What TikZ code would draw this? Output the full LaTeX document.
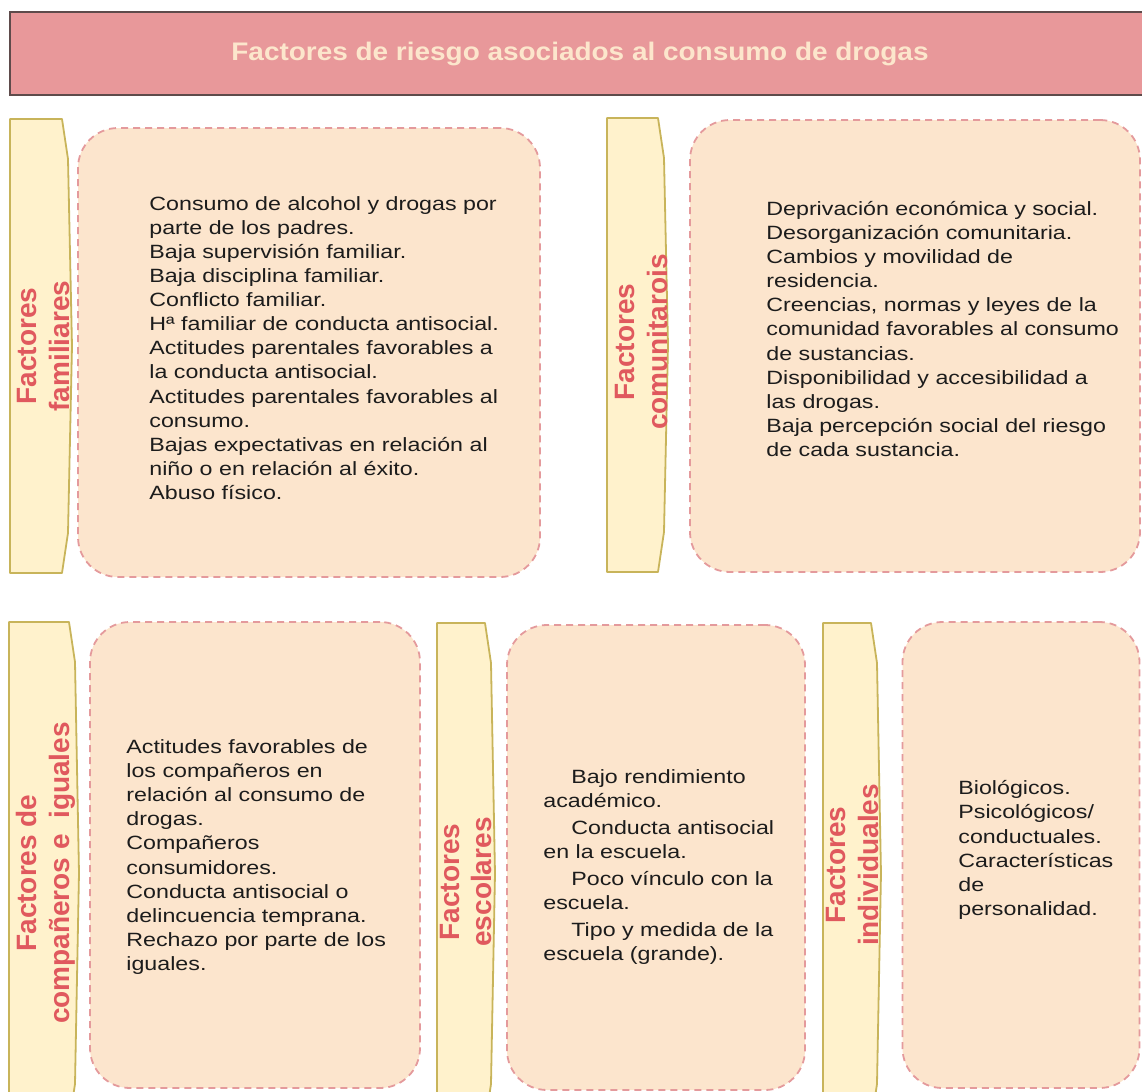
\documentclass[tikz,border=0pt]{standalone}
\usepackage{fontspec}
\setmainfont{Liberation Sans}[FakeStretch=1.21]
\newfontfamily\tabfont{Liberation Sans}
\newfontfamily\titlefont{Liberation Sans}[FakeStretch=1.1]
\usetikzlibrary{positioning}
\definecolor{titlefill}{HTML}{E8989A}
\definecolor{titledraw}{HTML}{5E4B4B}
\definecolor{titletext}{HTML}{FCE6CC}
\definecolor{tabfill}{HTML}{FFF2CC}
\definecolor{tabdraw}{HTML}{C8B45A}
\definecolor{tabtext}{HTML}{E0595E}
\definecolor{boxfill}{HTML}{FCE5CD}
\definecolor{boxdraw}{HTML}{E49A9C}
\definecolor{bodytext}{HTML}{1C1C1C}
\tikzset{%
	titlebar/.style = {draw=titledraw, fill=titlefill, line width=1pt, rectangle, minimum width=570pt, minimum height=41.5pt, text=titletext, font=\titlefont\fontsize{12.7}{15}\selectfont\bfseries},
	tab/.style      = {draw=tabdraw, fill=tabfill, line width=0.9pt, line join=round},
	tablabel/.style = {rotate=90, align=center, text=tabtext, inner sep=0pt, font=\tabfont\fontsize{14}{16.5}\selectfont\bfseries},
	riskbox/.style  = {draw=boxdraw, fill=boxfill, dash pattern=on 3.5pt off 2.5pt, line width=0.9pt, rectangle, rounded corners=20pt, inner sep=0pt},
	itemtext/.style = {anchor=west, align=left, text=bodytext, inner sep=0pt, font=\fontsize{9.6}{12.05}\selectfont},
}
% tab: left, right, top, bottom
\newcommand{\factortab}[4]{%
	\pgfmathsetmacro{\tabmid}{(#3+#4)/2}
	\draw[tab] (#1,#3) -- (#2,#3) -- (#2+6,#3+40) -- (#2+10,\tabmid) -- (#2+6,#4-40) -- (#2,#4) -- (#1,#4) -- cycle;}

\begin{document}
\begin{tikzpicture}[x=0.5pt,y=-0.5pt]
	\useasboundingbox (0,0) rectangle (1142,1092);
	\clip (0,0) rectangle (1142,1092);
	
	\node[titlebar] (title) at (580,53.5) {Factores de riesgo asociados al consumo de drogas};
	
	% upper row
	\factortab{10}{62}{119}{573}
	\node[tablabel] (famTab) at (44,346) {Factores\\familiares};
	\node[riskbox, minimum width=231pt, minimum height=224.5pt] (famBox) at (309,352.5) {};
	\node[itemtext] (famText) at (149,348) {Consumo de alcohol y drogas por\\
		parte de los padres.\\
		Baja supervisión familiar.\\
		Baja disciplina familiar.\\
		Conflicto familiar.\\
		Hª familiar de conducta antisocial.\\
		Actitudes parentales favorables a\\
		la conducta antisocial.\\
		Actitudes parentales favorables al\\
		consumo.\\
		Bajas expectativas en relación al\\
		niño o en relación al éxito.\\
		Abuso físico.};
	
	\factortab{607}{658}{118}{572}
	\node[tablabel] (comTab) at (641,342) {Factores\\comunitarois};
	\node[riskbox, minimum width=225pt, minimum height=226pt] (comBox) at (915,346) {};
	\node[itemtext] (comText) at (766,329) {Deprivación económica y social.\\
		Desorganización comunitaria.\\
		Cambios y movilidad de\\
		residencia.\\
		Creencias, normas y leyes de la\\
		comunidad favorables al consumo\\
		de sustancias.\\
		Disponibilidad y accesibilidad a\\
		las drogas.\\
		Baja percepción social del riesgo\\
		de cada sustancia.};
	
	% lower row
	\factortab{9}{69}{622}{1124}
	\node[tablabel] (pairTab) at (46,873) {Factores de\\compañeros e\ \ iguales};
	\node[riskbox, minimum width=165pt, minimum height=233pt] (pairBox) at (255,855) {};
	\node[itemtext] (pairText) at (126,857) {Actitudes favorables de\\
		los compañeros en\\
		relación al consumo de\\
		drogas.\\
		Compañeros\\
		consumidores.\\
		Conducta antisocial o\\
		delincuencia temprana.\\
		Rechazo por parte de los\\
		iguales.};
	
	\factortab{437}{485}{623}{1124}
	\node[tablabel] (schTab) at (466,882) {Factores\\escolares};
	\node[riskbox, minimum width=149pt, minimum height=232.5pt] (schBox) at (656,857.5) {};
	\node[itemtext] (schText) at (543,867) {\hspace*{14pt}Bajo rendimiento\\
		académico.\\[1.5pt]
		\hspace*{14pt}Conducta antisocial\\
		en la escuela.\\[1.5pt]
		\hspace*{14pt}Poco vínculo con la\\
		escuela.\\[1.5pt]
		\hspace*{14pt}Tipo y medida de la\\
		escuela (grande).};
	
	\factortab{823}{871}{623}{1124}
	\node[tablabel] (indTab) at (852,865) {Factores\\individuales};
	\node[riskbox, minimum width=118.5pt, minimum height=233pt] (indBox) at (1021,855) {};
	\node[itemtext] (indText) at (958,850) {Biológicos.\\
		Psicológicos/\\
		conductuales.\\
		Características\\
		de\\
		personalidad.};
\end{tikzpicture}
\end{document}
